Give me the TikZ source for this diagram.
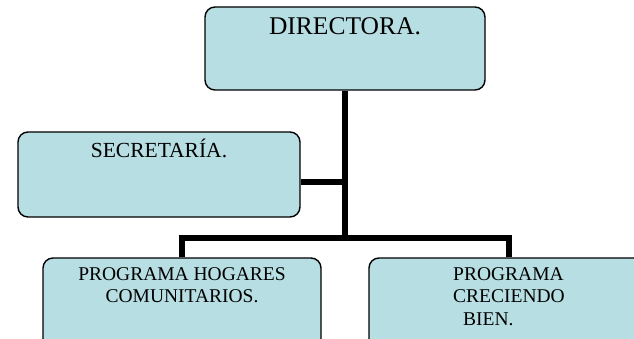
\documentclass[tikz,border=0pt]{standalone}
\usepackage{fontspec}
\setmainfont{Liberation Serif}
\usepackage{xcolor}
\usepackage{tikz}
\usetikzlibrary{shapes.geometric, arrows}
\definecolor{boxfill}{RGB}{183,222,226}
\tikzstyle{unit} = [draw, line width=1.4pt, rounded corners=10pt, fill=boxfill, minimum width=280pt, minimum height=84pt]
\tikzstyle{link} = [line width=5.5pt, line join=miter]
\tikzstyle{caption} = [anchor=north, inner sep=0pt, align=center]
\begin{document}
\begin{tikzpicture}[x=1pt, y=1pt, node distance=126pt]
\path[use as bounding box, clip] (0,0) rectangle (634,339);
\node (dir) [unit, minimum height=83pt, label={[caption, yshift=-11pt, font=\fontsize{25.5}{30}\selectfont]north:DIRECTORA.}] at (345,290.5) {};
\node (sec) [unit, minimum width=282pt, minimum height=85pt, below of=dir, xshift=-186pt, label={[caption, yshift=-8pt, font=\fontsize{21.5}{25}\selectfont]north:SECRETARÍA.}] {};
\node (hog) [unit, minimum width=278pt, minimum height=100pt, below of=sec, xshift=23pt, yshift=-7.5pt, label={[caption, yshift=-10pt, font=\fontsize{19.5}{22.5}\selectfont]north:PROGRAMA HOGARES\\COMUNITARIOS.}] {};
\node (cre) [unit, minimum height=100pt, right of=hog, xshift=201pt, label={[caption, align=left, yshift=-10pt, font=\fontsize{19.5}{22.5}\selectfont]north:PROGRAMA\\CRECIENDO\\\hspace*{10pt}BIEN.}] {};
\coordinate (bus) at (dir.south |- 0,101);

\draw [link] (dir.south) -- (bus);
\draw [link] ([yshift=-7.5pt]sec.east) -- ([yshift=-7.5pt]sec.east -| dir.south);
\draw [link] (hog.north) |- (bus) -| (cre.north);
\end{tikzpicture}
\end{document}
